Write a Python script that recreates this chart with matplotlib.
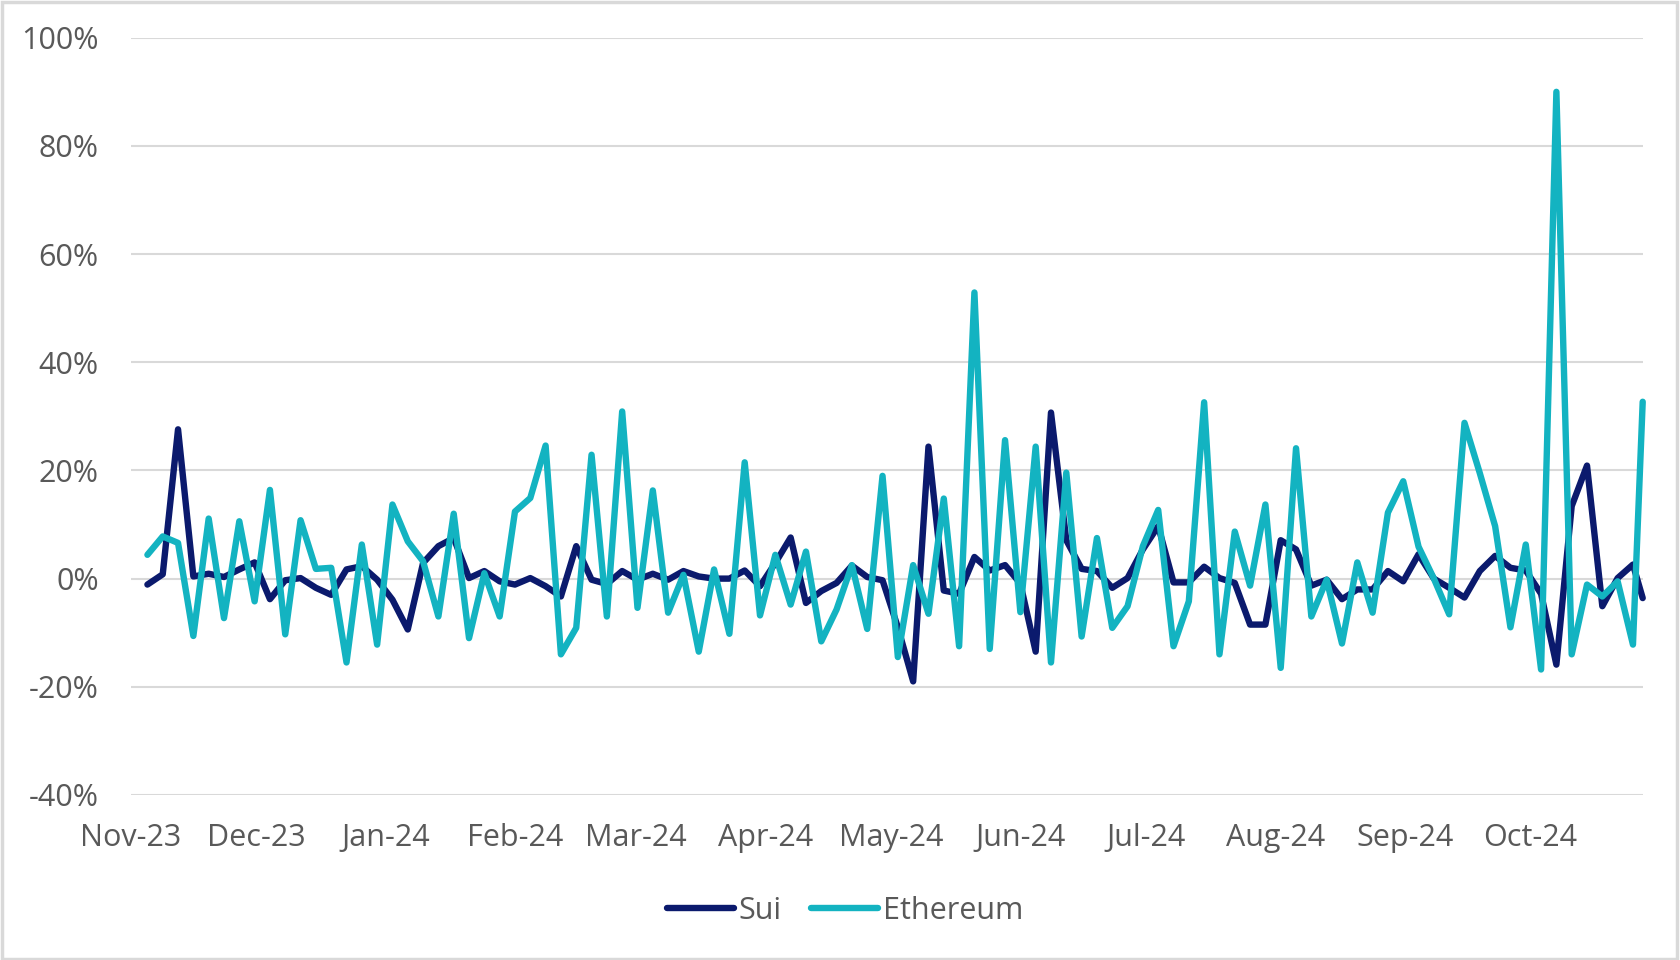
import matplotlib
matplotlib.use("Agg")
import matplotlib.pyplot as plt
import matplotlib.dates as mdates
from matplotlib.patches import Rectangle
import pandas as pd

plt.rcParams['font.family'] = ['Open Sans', 'DejaVu Sans']

# ---- data (% changes) ----
dates = list(pd.date_range('2023-11-05', periods=98, freq='88h')) + [pd.Timestamp('2024-10-28')]

sui = [-1.1, 0.8, 27.6, 0.4, 0.9, 0.3, 1.7, 3.0, -3.8, -0.3,
       0.1, -1.7, -3.0, 1.7, 2.3, -0.2, -3.9, -9.4, 2.9, 6.0,
       7.5, 0.1, 1.4, -0.5, -1.1, 0.1, -1.4, -3.3, 6.0, -0.2,
       -1.0, 1.4, -0.2, 0.9, -0.2, 1.4, 0.4, 0.0, 0.0, 1.5,
       -1.4, 2.9, 7.6, -4.5, -2.3, -0.8, 2.4, 0.3, -0.3, -9.0,
       -19.0, 24.4, -2.2, -2.8, 4.0, 1.5, 2.5, -0.9, -13.5, 30.7,
       7.1, 1.8, 1.4, -1.7, 0.1, 5.4, 9.7, -0.7, -0.7, 2.2,
       0.1, -0.8, -8.5, -8.5, 7.1, 5.4, -1.3, -0.2, -3.8, -2.0,
       -2.0, 1.4, -0.5, 4.5, 0.0, -1.7, -3.5, 1.4, 4.2, 2.0,
       1.5, -2.8, -15.9, 13.4, 20.9, -5.1, 0.1, 2.6, -3.6]

ethereum = [4.4, 7.8, 6.6, -10.6, 11.1, -7.3, 10.6, -4.2, 16.4, -10.3,
            10.8, 1.8, 2.0, -15.5, 6.3, -12.2, 13.7, 6.9, 3.2, -7.0,
            12.0, -11.0, 1.0, -7.0, 12.4, 14.9, 24.6, -14.0, -9.1, 22.9,
            -7.0, 30.9, -5.4, 16.3, -6.3, 0.7, -13.5, 1.7, -10.2, 21.5,
            -6.8, 4.4, -4.8, 5.0, -11.6, -5.7, 2.5, -9.3, 19.0, -14.5,
            2.5, -6.5, 14.8, -12.5, 52.9, -13.0, 25.6, -6.2, 24.4, -15.5,
            19.6, -10.7, 7.5, -9.1, -5.1, 6.0, 12.7, -12.5, -4.2, 32.6,
            -14.0, 8.7, -1.3, 13.7, -16.5, 24.1, -7.0, -0.2, -12.0, 3.0,
            -6.3, 12.2, 18.0, 5.9, 0.0, -6.6, 28.8, 19.5, 9.7, -9.0,
            6.3, -16.8, 90.0, -14.0, -1.1, -3.3, -0.5, -12.2, 32.7]

series_names = ['Sui', 'Ethereum']
y_ticks = [-40, -20, 0, 20, 40, 60, 80, 100]
month_ticks = pd.date_range('2023-11-01', '2024-10-01', freq='MS')

NAVY = '#0b1a6d'
TEAL = '#13b3c1'
GRID = '#d9d9d9'
TXT = '#595959'

fig = plt.figure(figsize=(16.8, 9.6), dpi=100)
fig.patch.set_facecolor('white')
ax = fig.add_axes([0.0778, 0.1719, 0.9, 0.7888])

line_kw = dict(lw=4.6, solid_joinstyle='round', solid_capstyle='round', clip_on=False)
ax.plot(dates, sui, color=NAVY, label=series_names[0], zorder=3, **line_kw)
ax.plot(dates, ethereum, color=TEAL, label=series_names[1], zorder=4, **line_kw)

ax.set_ylim(-40, 100)
ax.set_xlim(pd.Timestamp('2023-11-01'), pd.Timestamp('2024-10-28'))
ax.set_yticks(y_ticks)
ax.set_yticklabels([f'{v}%' for v in y_ticks])
ax.set_xticks(month_ticks)
ax.xaxis.set_major_formatter(mdates.DateFormatter('%b-%y'))

ax.grid(axis='y', color=GRID, lw=1.5)
ax.set_axisbelow(True)
for s in ax.spines.values():
    s.set_visible(False)
ax.tick_params(axis='both', length=0, labelsize=22, colors=TXT)
ax.tick_params(axis='y', pad=23)
ax.tick_params(axis='x', pad=20)

leg = fig.legend(loc='center', bbox_to_anchor=(0.503, 0.0515), ncol=2, frameon=False,
                 fontsize=22, handlelength=2.2, handletextpad=0.15, columnspacing=0.95)
for t in leg.get_texts():
    t.set_color(TXT)

fig.add_artist(Rectangle((0.001, 0.001), 0.997, 0.997, transform=fig.transFigure,
                         fill=False, edgecolor=GRID, lw=2.5))

fig.savefig('out.png', dpi=100, facecolor='white')
